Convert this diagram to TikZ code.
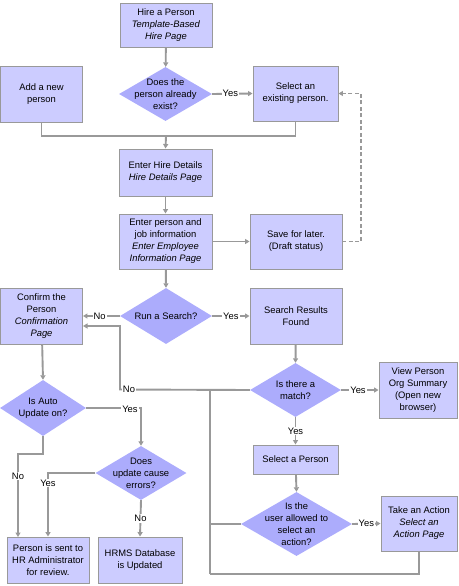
\documentclass[tikz,border=0pt]{standalone}
\usepackage{fontspec}
\setmainfont{Liberation Sans}
\usetikzlibrary{shapes.geometric,arrows.meta}
\definecolor{boxfill}{RGB}{204,204,255}
\definecolor{diafill}{RGB}{172,172,252}
\definecolor{linegray}{RGB}{153,153,153}
\tikzset{
  base/.style={font=\fontsize{9.4}{12}\selectfont, align=center, inner sep=0pt},
  box/.style={base, rectangle, draw=linegray, line width=0.9pt, fill=boxfill},
  dia/.style={diamond, draw=none, fill=diafill, inner sep=0pt, aspect=1.7},
  dtext/.style={base},
  conn/.style={draw=linegray, line width=1.9pt},
  arr/.style={conn, -{Triangle[length=4.5pt,width=5pt]}},
  lbl/.style={base, fill=white, inner sep=1pt},
}
\begin{document}
\begin{tikzpicture}[x=1pt,y=-1pt]
\useasboundingbox (0,0) rectangle (458,586);
% boxes
\node[box, minimum width=92pt, minimum height=44pt] (hire) at (166,25) {Hire a Person\\ \textit{Template-Based}\\ \textit{Hire Page}};
\node[box, minimum width=82pt, minimum height=56pt] (add) at (41.5,94) {Add a new\\ person};
\node[box, minimum width=85pt, minimum height=55pt] (select) at (295.5,93.5) {Select an\\ existing person.};
\node[box, minimum width=93pt, minimum height=47pt] (details) at (165.5,172.5) {Enter Hire Details\\ \textit{Hire Details Page}};
\node[box, minimum width=93pt, minimum height=55pt] (enter) at (165.5,241.5) {Enter person and\\ job information\\ \textit{Enter Employee}\\ \textit{Information Page}};
\node[box, minimum width=92pt, minimum height=55pt] (save) at (296,241.5) {Save for later.\\ (Draft status)};
\node[box, minimum width=82pt, minimum height=56pt] (confirm) at (41.5,316) {Confirm the\\ Person\\ \textit{Confirmation}\\ \textit{Page}};
\node[box, minimum width=92pt, minimum height=56pt] (search) at (296,316) {Search Results\\ Found};
\node[box, minimum width=78pt, minimum height=56pt] (view) at (418,390) {View Person\\ Org Summary\\ (Open new\\ browser)};
\node[box, minimum width=85pt, minimum height=29pt] (selperson) at (295.5,459.5) {Select a Person};
\node[box, minimum width=76pt, minimum height=55pt] (action) at (419,523.5) {Take an Action\\ \textit{Select an}\\ \textit{Action Page}};
\node[box, minimum width=82pt, minimum height=46pt] (hradmin) at (48,560) {Person is sent to\\ HR Administrator\\ for review.};
\node[box, minimum width=84pt, minimum height=46pt] (hrms) at (140,560) {HRMS Database\\ is Updated};
% diamonds
\node[dia, minimum width=93pt, minimum height=54pt] (exist) at (165.5,94) {};
\node[dtext] (existt) at (exist) {Does the\\ person already\\ exist?};
\node[dia, minimum width=92pt, minimum height=56pt] (runsearch) at (166,316) {};
\node[dtext] (runsearcht) at (runsearch) {Run a Search?};
\node[dia, minimum width=91pt, minimum height=54pt] (match) at (295.5,390) {};
\node[dtext] (matcht) at (match) {Is there a\\ match?};
\node[dia, minimum width=111pt, minimum height=64pt] (allowed) at (296.5,524) {};
\node[dtext] (allowedt) at (allowed) {Is the\\ user allowed to\\ select an\\ action?};
\node[dia, minimum width=86pt, minimum height=56pt] (auto) at (43,408) {};
\node[dtext] (autot) at (auto) {Is Auto\\ Update on?};
\node[dia, minimum width=91pt, minimum height=54pt] (errors) at (141,473) {};
\node[dtext] (errorst) at (errors) {Does\\ update cause\\ errors?};
% helper coordinates
\coordinate (m1) at (166,136);
\coordinate (dashc) at (361,241.5);
\coordinate (nojoin) at (120,389.5);
\coordinate (cin) at (83,326);
\coordinate (vtop) at (210,389.5);
\coordinate (vbot) at (210,574);
\coordinate (vmid) at (210,524);
\coordinate (abot) at (419,574);
\coordinate (yturn) at (141,408);
\coordinate (nturn) at (18,454);
\coordinate (nend) at (18,537);
\coordinate (eturn) at (48,473);
% connectors
\draw[arr] (hire) -- (exist);
\draw[arr] (exist.east) -- node[lbl, pos=0.45] (y1) {Yes} (select.west);
\draw[conn] (add.south) |- (m1) -| (select.south);
\draw[arr] (m1) -- (details.north);
\draw[arr] (details) -- (enter);
\draw[arr] (enter) -- (save);
\draw[arr, dashed, dash pattern=on 4pt off 2.5pt] (save.east) -- (dashc) |- (select.east);
\draw[arr] (enter) -- (runsearch.north);
\draw[arr] (runsearch.west) -- node[lbl, pos=0.55] (n1) {No} (confirm.east);
\draw[arr] (runsearch.east) -- node[lbl, pos=0.5] (y2) {Yes} (search.west);
\draw[arr] (search) -- (match.north);
\draw[arr] (match.east) -- node[lbl, pos=0.45] (y3) {Yes} (view.west);
\draw[arr] (match.south) -- node[lbl, pos=0.5] (y4) {Yes} (selperson.north);
\draw[arr] (selperson) -- (allowed.north);
\draw[arr] (allowed.east) -- node[lbl, pos=0.5] (y5) {Yes} (action.west);
\draw[arr] (match.west) -- (nojoin) |- (cin);
\node[lbl] (n2) at (129,389.5) {No};
\draw[conn] (vtop) -- (vbot);
\draw[conn] (allowed.west) -- (vmid);
\draw[conn] (action.south) -- (abot) -- (vbot);
\draw[arr] (confirm) -- (auto.north);
\draw[arr] (auto.east) -- (yturn) -- (errors.north);
\node[lbl, inner sep=1.5pt] (y6) at (130,409) {Yes};
\draw[arr] (auto.south) |- (nturn) -- (nend);
\node[lbl] (n3) at (18,476) {No};
\draw[arr] (errors.west) -- (eturn) -- (eturn |- hradmin.north);
\node[lbl] (y7) at (48,483) {Yes};
\draw[arr] (errors.south) -- node[lbl, pos=0.5] (n4) {No} (hrms.north);
\end{tikzpicture}
\end{document}
